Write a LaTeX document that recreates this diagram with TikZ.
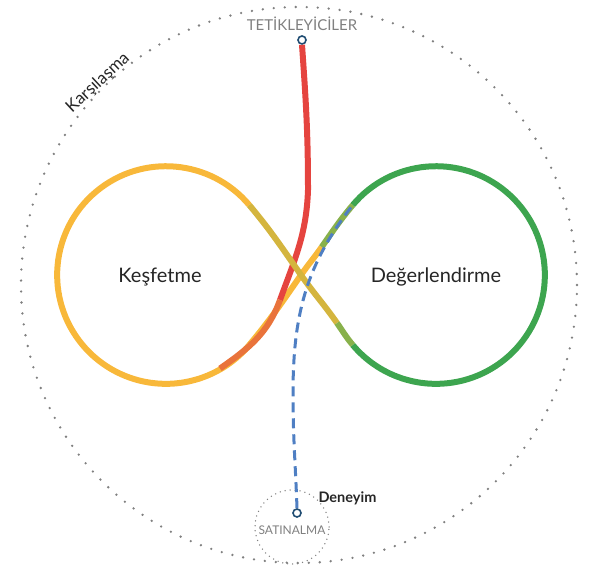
\documentclass[tikz,border=0pt]{standalone}
\usepackage{fontspec}
\setmainfont{Lato}
\usepackage{tikz}

\definecolor{kesfyellow}{HTML}{F8B83A}
\definecolor{degergreen}{HTML}{3DA54F}
\definecolor{mixolive}{HTML}{D4B53E}
\definecolor{mixgreen}{HTML}{88B14B}
\definecolor{trigred}{HTML}{E5443F}
\definecolor{trigorange}{HTML}{E9733B}
\definecolor{deneyblue}{HTML}{4F7FC3}
\definecolor{markblue}{HTML}{1F4C72}

\begin{document}
\begin{tikzpicture}[x=1pt, y=1pt,
    loop/.style={line width=6pt},
    marker/.style={circle, draw=markblue, fill=white, line width=1.6pt, minimum size=8pt, inner sep=0pt},
    dotline/.style={draw=gray, line width=2.6pt, line cap=round, dash pattern=on 0pt off 11pt},
    smalldots/.style={draw=gray, line width=1.5pt, line cap=round, dash pattern=on 0pt off 5pt},
    caption/.style={text=gray, font=\fontsize{15}{17}\selectfont},
    loopname/.style={text=black!85, font=\fontsize{20}{22}\selectfont}]
        \useasboundingbox (0,0) rectangle (596,569);

        % dotted frames
        \draw [dotline] (299,284) circle [radius=278];
        \draw [smalldots] (292,42) circle [radius=37];

        % points of the figure eight
        \coordinate (ltop) at (249.3,363.9);
        \coordinate (lbot) at (249.3,224.1);
        \coordinate (rtop) at (352.7,363.9);
        \coordinate (rbot) at (352.7,224.1);
        \coordinate (cross) at (301,294);
        \coordinate (amid) at (321.7,322);
        \coordinate (dmid) at (337,246);
        \coordinate (redend) at (220,200.5);

        % loops
        \draw [loop, kesfyellow] (ltop) arc [start angle=40, end angle=320, radius=108.8];
        \draw [loop, degergreen] (rtop) arc [start angle=140, end angle=-140, radius=108.8];

        % rising stroke
        \draw [loop, kesfyellow] (lbot) to [out=50, in=235] (cross) to [out=55, in=235] (amid);
        \draw [loop, mixgreen] (amid) to [out=55, in=230] (rtop);

        % triggers
        \node [marker] (trig) at (302,529) {};
        \node [caption, above=1pt] (trigtxt) at (trig.north) {TETİKLEYİCİLER};
        \coordinate (redmid) at (308,379);
        \coordinate (redturn) at (280,269);
        \draw [loop, trigred] (trig.south) to [out=-86, in=90] (redmid) to [out=-92, in=70] (redturn);
        \draw [loop, trigorange] (redturn) to [out=-110, in=35] (redend);

        % falling stroke
        \draw [loop, mixolive] (ltop) to [out=-50, in=125] (cross) to [out=-55, in=125] (dmid);
        \draw [loop, mixgreen] (dmid) to [out=-55, in=130] (rbot);

        % purchase
        \node [marker] (buy) at (297,56) {};
        \node [caption, font=\fontsize{12}{14}\selectfont] (buytxt) at (292,39) {SATINALMA};
        \node [text=black!85, font=\bfseries\fontsize{14.5}{16}\selectfont, anchor=west] (deney) at (315,71) {Deneyim};
        \coordinate (bluemid) at (293,175);
        \draw [deneyblue, line width=3pt, dash pattern=on 10pt off 6pt] (buy.north) to [out=92, in=-90] (bluemid) to [out=90, in=232] (rtop);

        % names
        \node [loopname] (kesf) at (160,292) {Keşfetme};
        \node [loopname] (deger) at (436,292) {Değerlendirme};
        \node [text=black!85, rotate=43, font=\fontsize{17}{19}\selectfont] (karsi) at (98,486) {Karşılaşma};
\end{tikzpicture}
\end{document}
